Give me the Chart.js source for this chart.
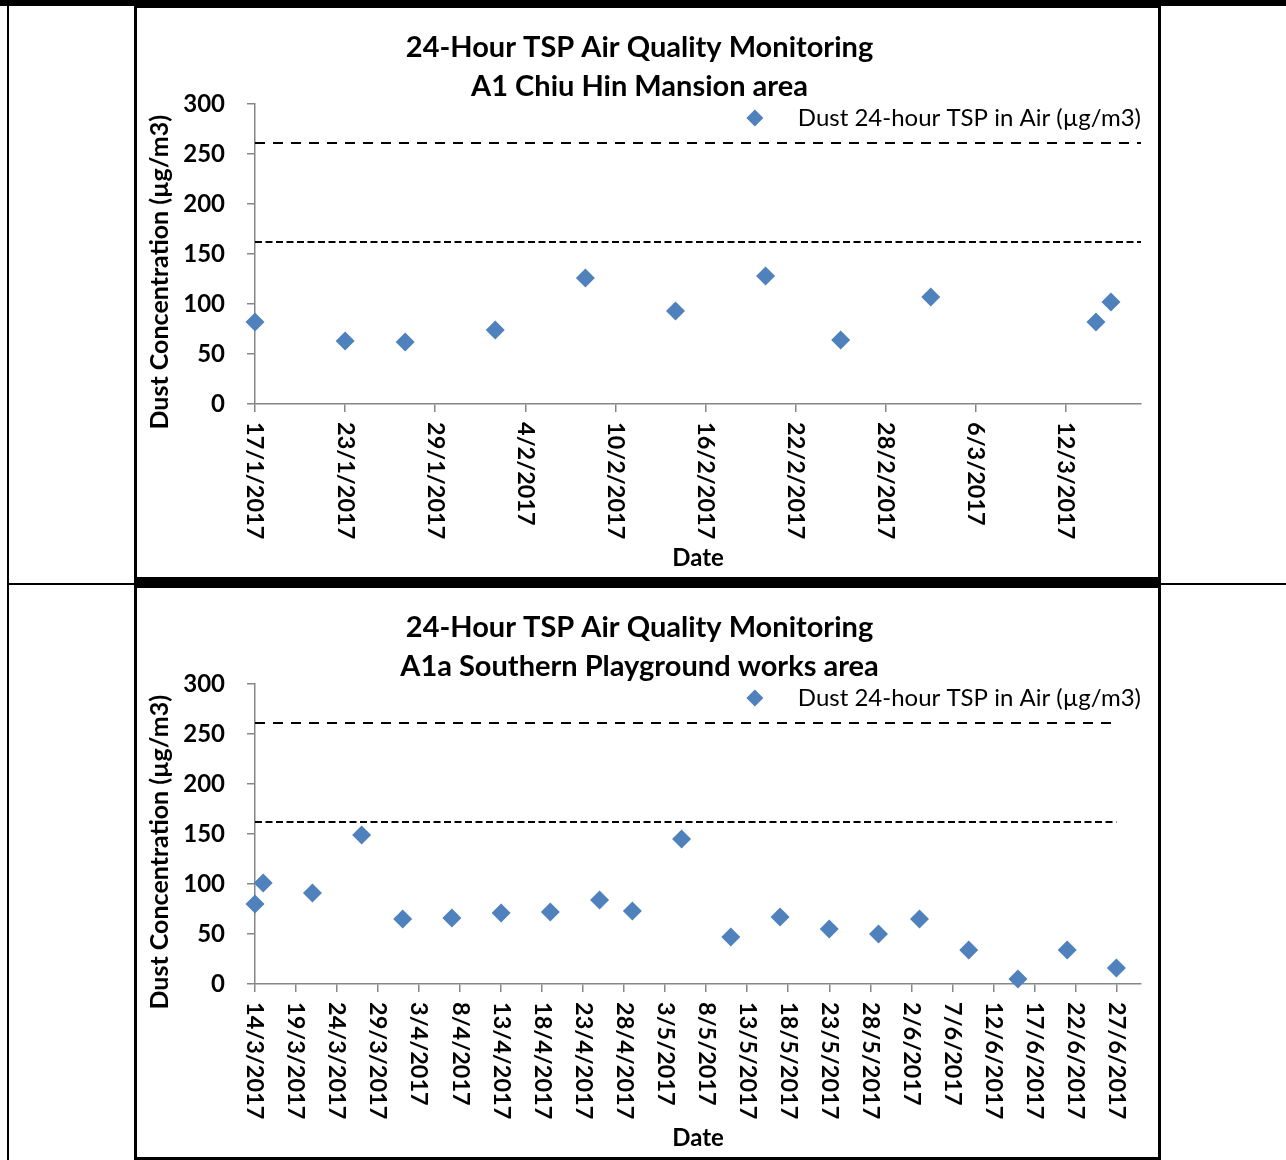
<!DOCTYPE html>
<html>
<head>
<meta charset="utf-8">
<script src="https://cdn.jsdelivr.net/npm/chart.js@4/dist/chart.umd.min.js"></script>
<style>
  body { margin: 0; background: #fff; }
  #page { position: relative; width: 1286px; height: 1160px; overflow: hidden; }
  .rule { position: absolute; background: #000; }
  .box { position: absolute; left: 134px; width: 1021px; height: 569px; border: 3px solid #000; }
  canvas { position: absolute; left: 138px; }
</style>
</head>
<body>
<div id="page">
  <div class="rule" style="left:0;top:0;width:1286px;height:6px"></div>
  <div class="rule" style="left:7px;top:0;width:2px;height:1160px"></div>
  <div class="rule" style="left:7px;top:583px;width:1279px;height:2px"></div>
  <div class="box" style="top:5px"></div>
  <div class="rule" style="left:134px;top:579px;width:1027px;height:7px"></div>
  <div class="box" style="top:585px"></div>
  <canvas id="chartA1" width="1019" height="564" style="top:11px"></canvas>
  <canvas id="chartA1a" width="1019" height="564" style="top:591px"></canvas>
</div>
<script>
// A1 Chiu Hin Mansion area
const a1Dates = ['17/1/2017', '23/1/2017', '27/1/2017', '2/2/2017', '8/2/2017', '14/2/2017',
    '20/2/2017', '25/2/2017', '3/3/2017', '14/3/2017', '15/3/2017'];
const a1Tsp = [82, 63, 62, 74, 126, 93, 128, 64, 107, 82, 102];
const a1TickLabels = ['17/1/2017', '23/1/2017', '29/1/2017', '4/2/2017', '10/2/2017', '16/2/2017',
    '22/2/2017', '28/2/2017', '6/3/2017', '12/3/2017'];
const a1AxisRange = ['17/1/2017', '17/3/2017'];
const a1LevelDates = ['17/1/2017', '17/3/2017'];

// A1a Southern Playground works area
const a1aDates = ['14/3/2017', '15/3/2017', '21/3/2017', '27/3/2017', '1/4/2017', '7/4/2017',
    '13/4/2017', '19/4/2017', '25/4/2017', '29/4/2017', '5/5/2017', '11/5/2017', '17/5/2017',
    '23/5/2017', '29/5/2017', '3/6/2017', '9/6/2017', '15/6/2017', '21/6/2017', '27/6/2017'];
const a1aTsp = [80, 101, 91, 149, 65, 66, 71, 72, 84, 73, 145, 47, 67, 55, 50, 65, 34, 5, 34, 16];
const a1aTickLabels = ['14/3/2017', '19/3/2017', '24/3/2017', '29/3/2017', '3/4/2017', '8/4/2017',
    '13/4/2017', '18/4/2017', '23/4/2017', '28/4/2017', '3/5/2017', '8/5/2017', '13/5/2017',
    '18/5/2017', '23/5/2017', '28/5/2017', '2/6/2017', '7/6/2017', '12/6/2017', '17/6/2017',
    '22/6/2017', '27/6/2017'];
const a1aAxisRange = ['14/3/2017', '30/6/2017'];
const a1aLevelDates = ['14/3/2017', '27/6/2017'];

// Limit / Action levels (dashed lines)
const limitLevel = 261;
const actionLevel = 162;

const seriesLabel = 'Dust 24-hour TSP in Air (µg/m3)';
const yTicksMax = 300;
const yTicksStep = 50;

const FONT = 'Lato';
const markerColor = '#4F81BD';
const axisColor = '#868686';

// d/m/yyyy -> day number
function toDay(str) {
    const [d, m, y] = str.split('/').map(Number);
    return Date.UTC(y, m - 1, d) / 86400000;
}

// tick labels drawn rotated clockwise (top to bottom), like the Excel chart
const dateTickLabels = {
    id: 'dateTickLabels',
    afterDraw(chart) {
        const scale = chart.scales.x;
        const ctx = chart.ctx;
        ctx.save();
        ctx.font = `bold 23.5px ${FONT}`;
        ctx.fillStyle = '#000';
        ctx.textAlign = 'left';
        ctx.textBaseline = 'middle';
        scale.ticks.forEach(t => {
            ctx.save();
            ctx.translate(scale.getPixelForValue(t.value), scale.top + 18);
            ctx.rotate(Math.PI / 2);
            ctx.fillText(t.date, 0, 0);
            ctx.restore();
        });
        ctx.restore();
    }
};

// legend sits inside the plot, top right
const cornerLegend = {
    id: 'cornerLegend',
    afterDraw(chart) {
        const { ctx, chartArea } = chart;
        const ds = chart.data.datasets[0];
        const y = chartArea.top + 14;
        ctx.save();
        ctx.font = `24px ${FONT}`;
        ctx.fillStyle = '#000';
        ctx.textBaseline = 'middle';
        ctx.textAlign = 'right';
        ctx.fillText(ds.label, chartArea.right, y);
        const textStart = chartArea.right - ctx.measureText(ds.label).width;
        ctx.fillStyle = markerColor;
        ctx.strokeStyle = markerColor;
        Chart.helpers.drawPoint(ctx, { pointStyle: 'rectRot', radius: 8.5, borderWidth: 0 }, textStart - 43, y);
        ctx.restore();
    }
};

function buildChart(canvasId, title, dates, values, tickLabels, range, levelDates) {
    const ctx = document.getElementById(canvasId).getContext('2d');
    const levelLine = (level, dash, label) => ({
        type: 'line',
        label: label,
        data: levelDates.map(d => ({ x: toDay(d), y: level })),
        borderColor: '#000',
        borderWidth: 2,
        borderDash: dash,
        pointRadius: 0,
        fill: false,
        clip: false
    });

    return new Chart(ctx, {
        type: 'scatter',
        data: {
            datasets: [
                {
                    label: seriesLabel,
                    data: dates.map((d, i) => ({ x: toDay(d), y: values[i] })),
                    pointStyle: 'rectRot',
                    pointRadius: 9.5,
                    backgroundColor: markerColor,
                    borderColor: markerColor,
                    borderWidth: 0,
                    clip: false
                },
                levelLine(limitLevel, [10, 8], 'Limit Level'),
                levelLine(actionLevel, [7, 3.5], 'Action Level')
            ]
        },
        options: {
            responsive: false,
            animation: false,
            layout: { padding: { top: 0, left: 0, right: 16, bottom: 0 } },
            plugins: {
                legend: { display: false },
                tooltip: { enabled: false },
                title: {
                    display: true,
                    text: title,
                    color: '#000',
                    font: { family: FONT, size: 29, weight: 'bold', lineHeight: 39 / 29 },
                    padding: { top: 17, bottom: -2 }
                }
            },
            scales: {
                x: {
                    type: 'linear',
                    min: toDay(range[0]),
                    max: toDay(range[1]),
                    afterBuildTicks: scale => {
                        scale.ticks = tickLabels.map(l => ({ value: toDay(l), date: l }));
                    },
                    afterFit: scale => { scale.height = 171; },
                    ticks: { display: false },
                    grid: { drawOnChartArea: false, drawTicks: true, tickLength: 8, color: axisColor, lineWidth: 1.5 },
                    border: { color: axisColor, width: 1.5 },
                    title: {
                        display: true,
                        text: 'Date',
                        color: '#000',
                        font: { family: FONT, size: 24, weight: 'bold', lineHeight: 1.2 },
                        padding: { top: 0, bottom: 2 }
                    }
                },
                y: {
                    min: 0,
                    max: yTicksMax,
                    afterFit: scale => { scale.width = 117; },
                    ticks: {
                        stepSize: yTicksStep,
                        color: '#000',
                        padding: 22,
                        font: { family: FONT, size: 24, weight: 'bold' }
                    },
                    grid: { drawOnChartArea: false, drawTicks: true, tickLength: 8, color: axisColor, lineWidth: 1.5 },
                    border: { color: axisColor, width: 1.5 },
                    title: {
                        display: true,
                        // trailing spaces nudge the rotated title down like the original
                        text: 'Dust Concentration (µg/m3)' + ' '.repeat(6),
                        color: '#000',
                        font: { family: FONT, size: 25, weight: 'bold', lineHeight: 1.2 },
                        padding: { top: 7, bottom: 0 }
                    }
                }
            }
        },
        plugins: [dateTickLabels, cornerLegend]
    });
}

buildChart('chartA1', ['24-Hour TSP Air Quality Monitoring', 'A1 Chiu Hin Mansion area'],
    a1Dates, a1Tsp, a1TickLabels, a1AxisRange, a1LevelDates);
buildChart('chartA1a', ['24-Hour TSP Air Quality Monitoring', 'A1a Southern Playground works area'],
    a1aDates, a1aTsp, a1aTickLabels, a1aAxisRange, a1aLevelDates);
</script>
</body>
</html>
